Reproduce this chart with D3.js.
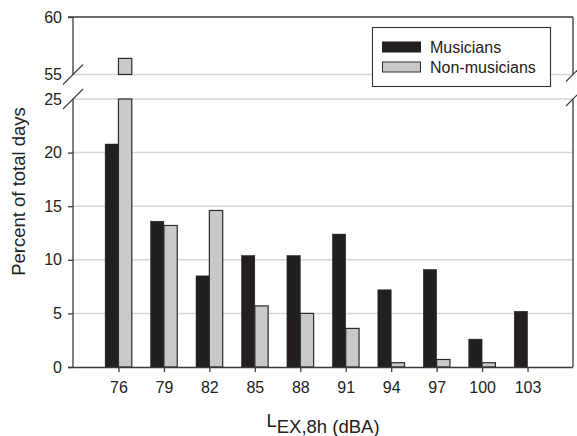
<!DOCTYPE html>
<html>
<head>
<meta charset="utf-8">
<script src="https://cdn.jsdelivr.net/npm/d3@7/dist/d3.min.js"></script>
<style>
  html, body { margin: 0; padding: 0; background: #fff; }
  svg { display: block; font-family: "Liberation Sans", Arial, sans-serif; }
</style>
</head>
<body>
<svg id="chart" width="577" height="436"></svg>
<script>
// Daily noise exposure level bins (dBA)
const categories = [76, 79, 82, 85, 88, 91, 94, 97, 100, 103];
// Percent of total days in each bin
const musicians = [20.8, 13.6, 8.5, 10.4, 10.4, 12.4, 7.2, 9.1, 2.6, 5.2];
const nonMusicians = [56.4, 13.2, 14.6, 5.7, 5.0, 3.6, 0.4, 0.7, 0.4, 0];
const seriesNames = ["Musicians", "Non-musicians"];
const lowerTicks = [0, 5, 10, 15, 20, 25];
const upperTicks = [55, 60];

const svg = d3.select("#chart");
const left = 73, right = 573;
const axisColor = "#3a3a3a";
const gridColor = "#d6d6d6";
const darkFill = "#231f20";
const lightFill = "#c8c9cb";
const fmt = d3.format("d");

const x = d3.scaleLinear().domain([73, 106]).range([left, right]);
const yLow = d3.scaleLinear().domain([0, 25]).range([367, 99]);
const yHigh = d3.scaleLinear().domain([55, 60]).range([74.5, 17]);
const barW = x(73 + 0.88) - x(73);

// gridlines
const grid = svg.append("g");
grid.selectAll("line.low").data(lowerTicks.filter(d => d > 0)).join("line")
  .attr("x1", left).attr("x2", right)
  .attr("y1", d => yLow(d)).attr("y2", d => yLow(d))
  .attr("stroke", gridColor).attr("stroke-width", 1.5);
grid.append("line")
  .attr("x1", left).attr("x2", right)
  .attr("y1", yHigh(upperTicks[0])).attr("y2", yHigh(upperTicks[0]))
  .attr("stroke", gridColor).attr("stroke-width", 1.5);

// bars
const bars = svg.append("g");
categories.forEach((c, i) => {
  const m = musicians[i];
  if (m > 0) {
    bars.append("rect")
      .attr("x", x(c) - barW).attr("width", barW)
      .attr("y", yLow(m)).attr("height", yLow(0) - yLow(m))
      .attr("fill", darkFill).attr("stroke", darkFill).attr("stroke-width", 0.5);
  }
  const n = nonMusicians[i];
  if (n > 0) {
    if (n <= 25) {
      bars.append("rect")
        .attr("x", x(c)).attr("width", barW)
        .attr("y", yLow(n)).attr("height", yLow(0) - yLow(n))
        .attr("fill", lightFill).attr("stroke", "#2a2a2a").attr("stroke-width", 1.2);
    } else {
      // broken bar: lower part up to the break, upper part above it
      bars.append("rect")
        .attr("x", x(c)).attr("width", barW)
        .attr("y", yLow(25)).attr("height", yLow(0) - yLow(25))
        .attr("fill", lightFill).attr("stroke", "#2a2a2a").attr("stroke-width", 1.2);
      bars.append("rect")
        .attr("x", x(c)).attr("width", barW)
        .attr("y", yHigh(n)).attr("height", yHigh(55) - yHigh(n))
        .attr("fill", lightFill).attr("stroke", "#2a2a2a").attr("stroke-width", 1.2);
    }
  }
});

// frame and axes
const frame = svg.append("g").attr("stroke", axisColor).attr("stroke-width", 1.3).attr("fill", "none");
frame.append("line").attr("x1", left - 5).attr("x2", right).attr("y1", yHigh(60)).attr("y2", yHigh(60));
frame.append("line").attr("x1", left).attr("x2", left).attr("y1", yHigh(60)).attr("y2", yHigh(55));
frame.append("line").attr("x1", right).attr("x2", right).attr("y1", yHigh(60)).attr("y2", yHigh(55));
frame.append("line").attr("x1", left).attr("x2", left).attr("y1", yLow(25)).attr("y2", yLow(0));
frame.append("line").attr("x1", right).attr("x2", right).attr("y1", yLow(25)).attr("y2", yLow(0));

// break marks
[yHigh(55), yLow(25)].forEach(yy => {
  [left, right].forEach(xx => {
    const h = xx === left ? 10 : 7;
    frame.append("line")
      .attr("x1", xx - h).attr("y1", yy + h)
      .attr("x2", xx + h).attr("y2", yy - h)
      .attr("stroke-width", 1.1);
  });
});

// y axis (lower segment)
const gyl = svg.append("g").attr("transform", `translate(${left},0)`)
  .call(d3.axisLeft(yLow).tickValues(lowerTicks.filter(d => d < 25)).tickSize(5).tickPadding(6).tickFormat(fmt));
gyl.select(".domain").remove();
// labels at the break values
const gyb = svg.append("g").attr("transform", `translate(${left},0)`)
  .call(d3.axisLeft(yLow).tickValues([25]).tickSize(0).tickPadding(11).tickFormat(fmt));
gyb.select(".domain").remove();
// upper segment
const gyu = svg.append("g").attr("transform", `translate(${left},0)`)
  .call(d3.axisLeft(yHigh).tickValues([upperTicks[1]]).tickSize(5).tickPadding(6).tickFormat(fmt));
gyu.select(".domain").remove();
const gyu2 = svg.append("g").attr("transform", `translate(${left},0)`)
  .call(d3.axisLeft(yHigh).tickValues([upperTicks[0]]).tickSize(0).tickPadding(11).tickFormat(fmt));
gyu2.select(".domain").remove();

// x axis
const xAxis = d3.axisBottom(x).tickValues(categories).tickSize(5).tickPadding(10).tickFormat(fmt);
const gx = svg.append("g").attr("transform", `translate(0,${yLow(0)})`).call(xAxis);
gx.select(".domain").attr("d", `M${left - 5},0.5H${right}`);

svg.selectAll(".tick line").attr("stroke", axisColor).attr("stroke-width", 1.3);
svg.selectAll(".domain").attr("stroke", axisColor).attr("stroke-width", 1.3);
svg.selectAll(".tick text").attr("font-size", 16).attr("fill", "#222")
  .attr("font-family", "'Liberation Sans', Arial, sans-serif");

// axis titles
svg.append("text")
  .attr("transform", "translate(25,191.5) rotate(-90)")
  .attr("text-anchor", "middle").attr("font-size", 18.5).attr("fill", "#222")
  .text("Percent of total days");

const xt = svg.append("text")
  .attr("x", (left + right) / 2).attr("y", 427)
  .attr("text-anchor", "middle").attr("font-size", 18.5).attr("fill", "#222");
xt.append("tspan").text("L");
xt.append("tspan").attr("dy", 6).text("EX,8h (dBA)");

// legend
const lg = svg.append("g");
lg.append("rect").attr("x", 372.5).attr("y", 27.5).attr("width", 178).attr("height", 59)
  .attr("fill", "#fff").attr("stroke", "#333").attr("stroke-width", 1.1);
const fills = [darkFill, lightFill];
seriesNames.forEach((name, i) => {
  lg.append("rect").attr("x", 382.5).attr("y", 42 + i * 20).attr("width", 38).attr("height", 10)
    .attr("fill", fills[i]).attr("stroke", i === 0 ? darkFill : "#2a2a2a").attr("stroke-width", 1);
  lg.append("text").attr("x", 430).attr("y", 52.5 + i * 20)
    .attr("font-size", 16).attr("fill", "#222").text(name);
});
</script>
</body>
</html>
